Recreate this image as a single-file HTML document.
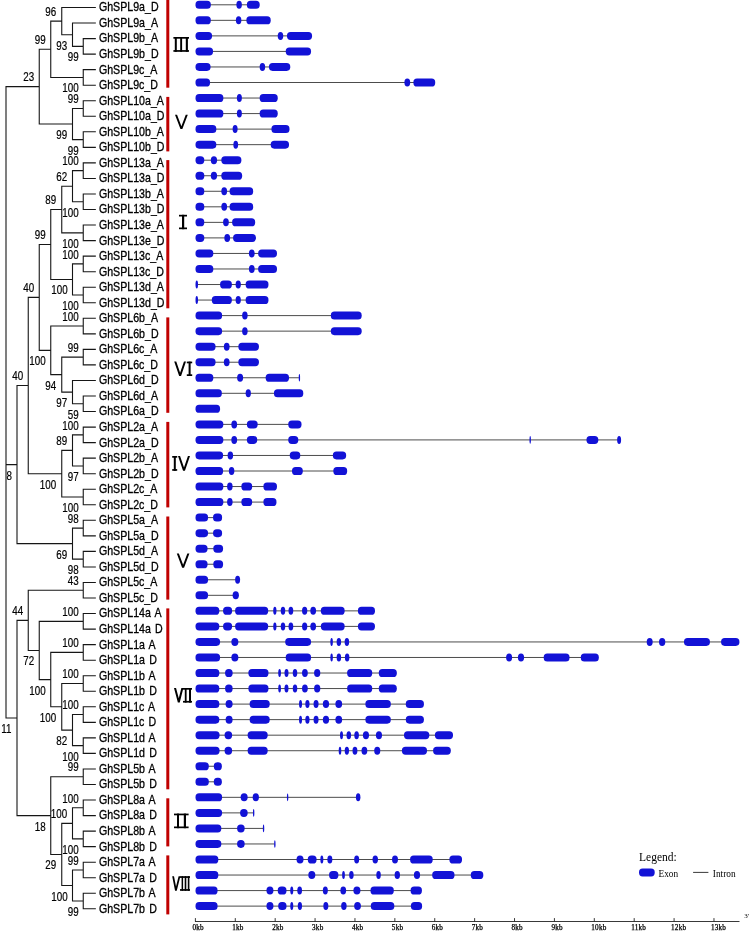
<!DOCTYPE html>
<html><head><meta charset="utf-8"><title>GhSPL phylogeny and gene structure</title>
<style>html,body{margin:0;padding:0;background:#fff}svg{display:block;will-change:transform;opacity:0.9999}text{font-family:"Liberation Sans",sans-serif;fill:#000}.sf{font-family:"Liberation Serif",serif}</style></head><body>
<svg width="750" height="932" viewBox="0 0 750 932">
<rect width="750" height="932" fill="#fff"/>
<g stroke="#161616" stroke-width="1.1" stroke-linecap="square" fill="none">
<path d="M83.25 38.58L83.25 54.12M83.25 38.58L95.30 38.58M83.25 54.12L95.30 54.12M72.50 23.04L72.50 46.35M72.50 23.04L95.30 23.04M72.50 46.35L83.25 46.35M61.75 7.50L61.75 34.69M61.75 7.50L95.30 7.50M61.75 34.69L72.50 34.69M83.25 69.66L83.25 85.20M83.25 69.66L95.30 69.66M83.25 85.20L95.30 85.20M50.75 21.10L50.75 77.43M50.75 21.10L61.75 21.10M50.75 77.43L83.25 77.43M83.25 100.74L83.25 116.28M83.25 100.74L95.30 100.74M83.25 116.28L95.30 116.28M83.25 131.82L83.25 147.36M83.25 131.82L95.30 131.82M83.25 147.36L95.30 147.36M72.50 108.51L72.50 139.59M72.50 108.51L83.25 108.51M72.50 139.59L83.25 139.59M39.25 49.26L39.25 124.05M39.25 49.26L50.75 49.26M39.25 124.05L72.50 124.05M83.25 162.90L83.25 178.44M83.25 162.90L95.30 162.90M83.25 178.44L95.30 178.44M83.25 193.98L83.25 209.52M83.25 193.98L95.30 193.98M83.25 209.52L95.30 209.52M72.50 170.67L72.50 201.75M72.50 170.67L83.25 170.67M72.50 201.75L83.25 201.75M83.25 225.06L83.25 240.60M83.25 225.06L95.30 225.06M83.25 240.60L95.30 240.60M61.75 186.21L61.75 232.83M61.75 186.21L72.50 186.21M61.75 232.83L83.25 232.83M83.25 256.14L83.25 271.68M83.25 256.14L95.30 256.14M83.25 271.68L95.30 271.68M83.25 287.22L83.25 302.76M83.25 287.22L95.30 287.22M83.25 302.76L95.30 302.76M72.50 263.91L72.50 294.99M72.50 263.91L83.25 263.91M72.50 294.99L83.25 294.99M50.75 209.52L50.75 279.45M50.75 209.52L61.75 209.52M50.75 279.45L72.50 279.45M83.25 318.30L83.25 333.84M83.25 318.30L95.30 318.30M83.25 333.84L95.30 333.84M83.25 349.38L83.25 364.92M83.25 349.38L95.30 349.38M83.25 364.92L95.30 364.92M83.25 396.00L83.25 411.54M83.25 396.00L95.30 396.00M83.25 411.54L95.30 411.54M72.50 380.46L72.50 403.77M72.50 380.46L95.30 380.46M72.50 403.77L83.25 403.77M61.75 357.15L61.75 392.12M61.75 357.15L83.25 357.15M61.75 392.12L72.50 392.12M50.75 326.07L50.75 374.63M50.75 326.07L83.25 326.07M50.75 374.63L61.75 374.63M39.25 244.48L39.25 350.35M39.25 244.48L50.75 244.48M39.25 350.35L50.75 350.35M83.25 427.08L83.25 442.62M83.25 427.08L95.30 427.08M83.25 442.62L95.30 442.62M83.25 458.16L83.25 473.70M83.25 458.16L95.30 458.16M83.25 473.70L95.30 473.70M72.50 434.85L72.50 465.93M72.50 434.85L83.25 434.85M72.50 465.93L83.25 465.93M83.25 489.24L83.25 504.78M83.25 489.24L95.30 489.24M83.25 504.78L95.30 504.78M61.75 450.39L61.75 497.01M61.75 450.39L72.50 450.39M61.75 497.01L83.25 497.01M28.25 297.42L28.25 473.70M28.25 297.42L39.25 297.42M28.25 473.70L61.75 473.70M83.25 520.32L83.25 535.86M83.25 520.32L95.30 520.32M83.25 535.86L95.30 535.86M83.25 551.40L83.25 566.94M83.25 551.40L95.30 551.40M83.25 566.94L95.30 566.94M72.50 528.09L72.50 559.17M72.50 528.09L83.25 528.09M72.50 559.17L83.25 559.17M17.00 385.56L17.00 543.63M17.00 385.56L28.25 385.56M17.00 543.63L72.50 543.63M83.25 582.48L83.25 598.02M83.25 582.48L95.30 582.48M83.25 598.02L95.30 598.02M83.25 613.56L83.25 629.10M83.25 613.56L95.30 613.56M83.25 629.10L95.30 629.10M83.25 644.64L83.25 660.18M83.25 644.64L95.30 644.64M83.25 660.18L95.30 660.18M83.25 675.72L83.25 691.26M83.25 675.72L95.30 675.72M83.25 691.26L95.30 691.26M83.25 706.80L83.25 722.34M83.25 706.80L95.30 706.80M83.25 722.34L95.30 722.34M83.25 737.88L83.25 753.42M83.25 737.88L95.30 737.88M83.25 753.42L95.30 753.42M72.50 714.57L72.50 745.65M72.50 714.57L83.25 714.57M72.50 745.65L83.25 745.65M61.75 683.49L61.75 730.11M61.75 683.49L83.25 683.49M61.75 730.11L72.50 730.11M50.75 652.41L50.75 706.80M50.75 652.41L83.25 652.41M50.75 706.80L61.75 706.80M39.25 621.33L39.25 679.61M39.25 621.33L83.25 621.33M39.25 679.61L50.75 679.61M28.25 590.25L28.25 650.47M28.25 590.25L83.25 590.25M28.25 650.47L39.25 650.47M83.25 768.96L83.25 784.50M83.25 768.96L95.30 768.96M83.25 784.50L95.30 784.50M83.25 800.04L83.25 815.58M83.25 800.04L95.30 800.04M83.25 815.58L95.30 815.58M83.25 831.12L83.25 846.66M83.25 831.12L95.30 831.12M83.25 846.66L95.30 846.66M72.50 807.81L72.50 838.89M72.50 807.81L83.25 807.81M72.50 838.89L83.25 838.89M83.25 862.20L83.25 877.74M83.25 862.20L95.30 862.20M83.25 877.74L95.30 877.74M83.25 893.28L83.25 908.82M83.25 893.28L95.30 893.28M83.25 908.82L95.30 908.82M72.50 869.97L72.50 901.05M72.50 869.97L83.25 869.97M72.50 901.05L83.25 901.05M61.75 823.35L61.75 885.51M61.75 823.35L72.50 823.35M61.75 885.51L72.50 885.51M50.75 776.73L50.75 854.43M50.75 776.73L83.25 776.73M50.75 854.43L61.75 854.43M17.00 620.36L17.00 815.58M17.00 620.36L28.25 620.36M17.00 815.58L50.75 815.58M6.00 86.66L6.00 717.97M6.00 86.66L39.25 86.66M6.00 464.59L17.00 464.59M6.00 717.97L17.00 717.97"/>
</g>
<g font-size="12" stroke="#000" stroke-width="0.3" word-spacing="1.4">
<text transform="translate(98.9 11.40) scale(0.886 1)">GhSPL9a_D</text>
<text transform="translate(98.9 26.94) scale(0.886 1)">GhSPL9a_A</text>
<text transform="translate(98.9 42.48) scale(0.886 1)">GhSPL9b_A</text>
<text transform="translate(98.9 58.02) scale(0.886 1)">GhSPL9b_D</text>
<text transform="translate(98.9 73.56) scale(0.886 1)">GhSPL9c_A</text>
<text transform="translate(98.9 89.10) scale(0.886 1)">GhSPL9c_D</text>
<text transform="translate(98.9 104.64) scale(0.886 1)">GhSPL10a_A</text>
<text transform="translate(98.9 120.18) scale(0.886 1)">GhSPL10a_D</text>
<text transform="translate(98.9 135.72) scale(0.886 1)">GhSPL10b_A</text>
<text transform="translate(98.9 151.26) scale(0.886 1)">GhSPL10b_D</text>
<text transform="translate(98.9 166.80) scale(0.886 1)">GhSPL13a_A</text>
<text transform="translate(98.9 182.34) scale(0.886 1)">GhSPL13a_D</text>
<text transform="translate(98.9 197.88) scale(0.886 1)">GhSPL13b_A</text>
<text transform="translate(98.9 213.42) scale(0.886 1)">GhSPL13b_D</text>
<text transform="translate(98.9 228.96) scale(0.886 1)">GhSPL13e_A</text>
<text transform="translate(98.9 244.50) scale(0.886 1)">GhSPL13e_D</text>
<text transform="translate(98.9 260.04) scale(0.886 1)">GhSPL13c_A</text>
<text transform="translate(98.9 275.58) scale(0.886 1)">GhSPL13c_D</text>
<text transform="translate(98.9 291.12) scale(0.886 1)">GhSPL13d_A</text>
<text transform="translate(98.9 306.66) scale(0.886 1)">GhSPL13d_D</text>
<text transform="translate(98.9 322.20) scale(0.886 1)">GhSPL6b_A</text>
<text transform="translate(98.9 337.74) scale(0.886 1)">GhSPL6b_D</text>
<text transform="translate(98.9 353.28) scale(0.886 1)">GhSPL6c_A</text>
<text transform="translate(98.9 368.82) scale(0.886 1)">GhSPL6c_D</text>
<text transform="translate(98.9 384.36) scale(0.886 1)">GhSPL6d_D</text>
<text transform="translate(98.9 399.90) scale(0.886 1)">GhSPL6d_A</text>
<text transform="translate(98.9 415.44) scale(0.886 1)">GhSPL6a_D</text>
<text transform="translate(98.9 430.98) scale(0.886 1)">GhSPL2a_A</text>
<text transform="translate(98.9 446.52) scale(0.886 1)">GhSPL2a_D</text>
<text transform="translate(98.9 462.06) scale(0.886 1)">GhSPL2b_A</text>
<text transform="translate(98.9 477.60) scale(0.886 1)">GhSPL2b_D</text>
<text transform="translate(98.9 493.14) scale(0.886 1)">GhSPL2c_A</text>
<text transform="translate(98.9 508.68) scale(0.886 1)">GhSPL2c_D</text>
<text transform="translate(98.9 524.22) scale(0.886 1)">GhSPL5a_A</text>
<text transform="translate(98.9 539.76) scale(0.886 1)">GhSPL5a_D</text>
<text transform="translate(98.9 555.30) scale(0.886 1)">GhSPL5d_A</text>
<text transform="translate(98.9 570.84) scale(0.886 1)">GhSPL5d_D</text>
<text transform="translate(98.9 586.38) scale(0.886 1)">GhSPL5c_A</text>
<text transform="translate(98.9 601.92) scale(0.886 1)">GhSPL5c_D</text>
<text transform="translate(98.9 617.46) scale(0.886 1)">GhSPL14a A</text>
<text transform="translate(98.9 633.00) scale(0.886 1)">GhSPL14a D</text>
<text transform="translate(98.9 648.54) scale(0.886 1)">GhSPL1a A</text>
<text transform="translate(98.9 664.08) scale(0.886 1)">GhSPL1a D</text>
<text transform="translate(98.9 679.62) scale(0.886 1)">GhSPL1b A</text>
<text transform="translate(98.9 695.16) scale(0.886 1)">GhSPL1b D</text>
<text transform="translate(98.9 710.70) scale(0.886 1)">GhSPL1c A</text>
<text transform="translate(98.9 726.24) scale(0.886 1)">GhSPL1c D</text>
<text transform="translate(98.9 741.78) scale(0.886 1)">GhSPL1d A</text>
<text transform="translate(98.9 757.32) scale(0.886 1)">GhSPL1d D</text>
<text transform="translate(98.9 772.86) scale(0.886 1)">GhSPL5b A</text>
<text transform="translate(98.9 788.40) scale(0.886 1)">GhSPL5b D</text>
<text transform="translate(98.9 803.94) scale(0.886 1)">GhSPL8a A</text>
<text transform="translate(98.9 819.48) scale(0.886 1)">GhSPL8a D</text>
<text transform="translate(98.9 835.02) scale(0.886 1)">GhSPL8b A</text>
<text transform="translate(98.9 850.56) scale(0.886 1)">GhSPL8b D</text>
<text transform="translate(98.9 866.10) scale(0.886 1)">GhSPL7a A</text>
<text transform="translate(98.9 881.64) scale(0.886 1)">GhSPL7a D</text>
<text transform="translate(98.9 897.18) scale(0.886 1)">GhSPL7b A</text>
<text transform="translate(98.9 912.72) scale(0.886 1)">GhSPL7b D</text>
</g>
<g font-size="11.9" text-anchor="end" stroke="#000" stroke-width="0.2">
<text transform="translate(56.10 15.80) scale(0.825 1)">96</text>
<text transform="translate(45.60 43.96) scale(0.825 1)">99</text>
<text transform="translate(67.10 49.69) scale(0.825 1)">93</text>
<text transform="translate(78.70 61.35) scale(0.825 1)">99</text>
<text transform="translate(34.10 81.36) scale(0.825 1)">23</text>
<text transform="translate(78.70 92.43) scale(0.825 1)">100</text>
<text transform="translate(78.70 103.21) scale(0.825 1)">99</text>
<text transform="translate(67.10 139.05) scale(0.825 1)">99</text>
<text transform="translate(78.70 154.59) scale(0.825 1)">99</text>
<text transform="translate(78.70 165.37) scale(0.825 1)">100</text>
<text transform="translate(67.10 180.91) scale(0.825 1)">62</text>
<text transform="translate(56.10 204.22) scale(0.825 1)">89</text>
<text transform="translate(78.70 216.75) scale(0.825 1)">100</text>
<text transform="translate(45.60 239.19) scale(0.825 1)">99</text>
<text transform="translate(78.70 247.83) scale(0.825 1)">100</text>
<text transform="translate(78.70 258.61) scale(0.825 1)">100</text>
<text transform="translate(34.10 292.12) scale(0.825 1)">40</text>
<text transform="translate(67.60 294.45) scale(0.825 1)">100</text>
<text transform="translate(78.70 309.99) scale(0.825 1)">100</text>
<text transform="translate(78.70 320.77) scale(0.825 1)">100</text>
<text transform="translate(78.70 351.85) scale(0.825 1)">99</text>
<text transform="translate(45.60 365.35) scale(0.825 1)">100</text>
<text transform="translate(23.10 380.26) scale(0.825 1)">40</text>
<text transform="translate(56.10 389.63) scale(0.825 1)">94</text>
<text transform="translate(67.10 407.12) scale(0.825 1)">97</text>
<text transform="translate(78.70 418.77) scale(0.825 1)">59</text>
<text transform="translate(78.70 429.55) scale(0.825 1)">100</text>
<text transform="translate(67.10 445.09) scale(0.825 1)">89</text>
<text transform="translate(11.85 479.59) scale(0.825 1)">8</text>
<text transform="translate(78.70 480.93) scale(0.825 1)">97</text>
<text transform="translate(56.10 488.70) scale(0.825 1)">100</text>
<text transform="translate(78.70 512.01) scale(0.825 1)">100</text>
<text transform="translate(78.70 522.79) scale(0.825 1)">98</text>
<text transform="translate(67.10 558.63) scale(0.825 1)">69</text>
<text transform="translate(78.70 574.17) scale(0.825 1)">98</text>
<text transform="translate(78.70 584.95) scale(0.825 1)">43</text>
<text transform="translate(23.10 615.06) scale(0.825 1)">44</text>
<text transform="translate(78.70 616.03) scale(0.825 1)">100</text>
<text transform="translate(78.70 647.11) scale(0.825 1)">100</text>
<text transform="translate(34.10 665.47) scale(0.825 1)">72</text>
<text transform="translate(78.70 678.19) scale(0.825 1)">100</text>
<text transform="translate(45.60 694.61) scale(0.825 1)">100</text>
<text transform="translate(78.70 709.27) scale(0.825 1)">100</text>
<text transform="translate(56.10 721.80) scale(0.825 1)">100</text>
<text transform="translate(11.35 732.97) scale(0.825 1)">11</text>
<text transform="translate(67.10 745.11) scale(0.825 1)">82</text>
<text transform="translate(78.70 760.65) scale(0.825 1)">100</text>
<text transform="translate(78.70 771.43) scale(0.825 1)">99</text>
<text transform="translate(78.70 802.51) scale(0.825 1)">100</text>
<text transform="translate(67.10 818.05) scale(0.825 1)">100</text>
<text transform="translate(45.60 830.58) scale(0.825 1)">18</text>
<text transform="translate(78.70 853.89) scale(0.825 1)">100</text>
<text transform="translate(78.70 864.67) scale(0.825 1)">99</text>
<text transform="translate(56.10 869.43) scale(0.825 1)">29</text>
<text transform="translate(67.60 900.51) scale(0.825 1)">100</text>
<text transform="translate(78.70 916.05) scale(0.825 1)">99</text>
</g>
<g fill="#c00000">
<rect x="166.3" y="0.00" width="3.0" height="87.70"/>
<rect x="166.3" y="96.90" width="3.0" height="54.50"/>
<rect x="166.3" y="160.10" width="3.0" height="148.20"/>
<rect x="166.3" y="317.40" width="3.0" height="95.40"/>
<rect x="166.3" y="421.90" width="3.0" height="85.50"/>
<rect x="166.3" y="516.50" width="3.0" height="83.10"/>
<rect x="166.3" y="608.40" width="3.0" height="180.90"/>
<rect x="166.3" y="798.30" width="3.0" height="48.10"/>
<rect x="166.3" y="855.40" width="3.0" height="59.00"/>
</g>
<g>
<rect x="173.40" y="37.00" width="15.60" height="1.7" fill="#000"/><rect x="173.40" y="50.10" width="15.60" height="1.7" fill="#000"/><rect x="174.80" y="37.00" width="2.00" height="14.80" fill="#000"/><rect x="180.20" y="37.00" width="1.90" height="14.80" fill="#000"/><rect x="185.80" y="37.00" width="2.10" height="14.80" fill="#000"/>
<polygon points="175.00,114.80 180.45,129.00 182.35,129.00 187.80,114.80 185.75,114.80 181.40,126.13 177.05,114.80" fill="#000"/>
<rect x="179.00" y="214.80" width="8.00" height="1.7" fill="#000"/><rect x="179.00" y="227.50" width="8.00" height="1.7" fill="#000"/><rect x="182.00" y="214.80" width="2.20" height="14.40" fill="#000"/>
<polygon points="174.20,361.60 179.15,376.00 181.05,376.00 186.00,361.60 183.95,361.60 180.10,372.80 176.25,361.60" fill="#000"/>
<rect x="186.80" y="361.60" width="5.40" height="1.7" fill="#000"/><rect x="186.80" y="374.30" width="5.40" height="1.7" fill="#000"/><rect x="188.60" y="361.60" width="2.00" height="14.40" fill="#000"/>
<rect x="172.20" y="456.00" width="5.00" height="1.7" fill="#000"/><rect x="172.20" y="469.10" width="5.00" height="1.7" fill="#000"/><rect x="173.80" y="456.00" width="2.00" height="14.80" fill="#000"/>
<polygon points="178.00,456.00 183.05,470.80 184.95,470.80 190.00,456.00 187.95,456.00 184.00,467.58 180.05,456.00" fill="#000"/>
<polygon points="176.80,553.40 182.15,567.80 184.05,567.80 189.40,553.40 187.35,553.40 183.10,564.84 178.85,553.40" fill="#000"/>
<polygon points="174.00,688.00 177.85,702.60 179.75,702.60 183.40,688.00 181.35,688.00 178.77,698.32 176.05,688.00" fill="#000"/>
<rect x="183.00" y="688.00" width="9.00" height="1.7" fill="#000"/><rect x="183.00" y="700.90" width="9.00" height="1.7" fill="#000"/><rect x="184.80" y="688.00" width="1.80" height="14.60" fill="#000"/><rect x="189.00" y="688.00" width="2.00" height="14.60" fill="#000"/>
<rect x="174.00" y="813.60" width="14.60" height="1.7" fill="#000"/><rect x="174.00" y="826.50" width="14.60" height="1.7" fill="#000"/><rect x="177.00" y="813.60" width="2.00" height="14.60" fill="#000"/><rect x="183.80" y="813.60" width="2.20" height="14.60" fill="#000"/>
<polygon points="172.20,876.20 175.05,890.80 176.75,890.80 180.40,876.20 178.60,876.20 176.02,886.53 174.00,876.20" fill="#000"/>
<rect x="180.00" y="876.20" width="10.00" height="1.7" fill="#000"/><rect x="180.00" y="889.10" width="10.00" height="1.7" fill="#000"/><rect x="181.60" y="876.20" width="1.50" height="14.60" fill="#000"/><rect x="184.70" y="876.20" width="1.60" height="14.60" fill="#000"/><rect x="187.80" y="876.20" width="1.60" height="14.60" fill="#000"/>
</g>
<g>
<line x1="197.51" y1="4.80" x2="259.17" y2="4.80" stroke="#383838" stroke-width="0.9"/>
<rect x="195.51" y="0.80" width="15.29" height="8.0" rx="3.60" ry="3.60" fill="#1212d6"/>
<rect x="236.37" y="0.80" width="5.51" height="8.0" rx="2.76" ry="4.00" fill="#1212d6"/>
<rect x="246.89" y="0.80" width="12.78" height="8.0" rx="3.60" ry="3.60" fill="#1212d6"/>
<line x1="197.51" y1="20.34" x2="270.20" y2="20.34" stroke="#383838" stroke-width="0.9"/>
<rect x="195.51" y="16.34" width="15.29" height="8.0" rx="3.60" ry="3.60" fill="#1212d6"/>
<rect x="235.86" y="16.34" width="5.51" height="8.0" rx="2.76" ry="4.00" fill="#1212d6"/>
<rect x="246.39" y="16.34" width="24.31" height="8.0" rx="3.60" ry="3.60" fill="#1212d6"/>
<line x1="197.51" y1="35.88" x2="311.56" y2="35.88" stroke="#383838" stroke-width="0.9"/>
<rect x="195.51" y="31.88" width="16.54" height="8.0" rx="3.60" ry="3.60" fill="#1212d6"/>
<rect x="277.72" y="31.88" width="5.51" height="8.0" rx="2.76" ry="4.00" fill="#1212d6"/>
<rect x="286.99" y="31.88" width="25.06" height="8.0" rx="3.60" ry="3.60" fill="#1212d6"/>
<line x1="197.51" y1="51.42" x2="310.55" y2="51.42" stroke="#383838" stroke-width="0.9"/>
<rect x="195.51" y="47.42" width="17.54" height="8.0" rx="3.60" ry="3.60" fill="#1212d6"/>
<rect x="285.74" y="47.42" width="25.31" height="8.0" rx="3.60" ry="3.60" fill="#1212d6"/>
<line x1="197.51" y1="66.96" x2="289.75" y2="66.96" stroke="#383838" stroke-width="0.9"/>
<rect x="195.51" y="62.96" width="15.04" height="8.0" rx="3.60" ry="3.60" fill="#1212d6"/>
<rect x="259.67" y="62.96" width="5.51" height="8.0" rx="2.76" ry="4.00" fill="#1212d6"/>
<rect x="268.95" y="62.96" width="21.30" height="8.0" rx="3.60" ry="3.60" fill="#1212d6"/>
<line x1="197.51" y1="82.50" x2="434.70" y2="82.50" stroke="#383838" stroke-width="0.9"/>
<rect x="195.51" y="78.50" width="14.54" height="8.0" rx="3.60" ry="3.60" fill="#1212d6"/>
<rect x="404.40" y="78.50" width="5.80" height="8.0" rx="2.90" ry="4.00" fill="#1212d6"/>
<rect x="413.40" y="78.50" width="21.80" height="8.0" rx="3.60" ry="3.60" fill="#1212d6"/>
<line x1="197.51" y1="98.04" x2="277.22" y2="98.04" stroke="#383838" stroke-width="0.9"/>
<rect x="195.51" y="94.04" width="27.82" height="8.0" rx="3.60" ry="3.60" fill="#1212d6"/>
<rect x="236.87" y="94.04" width="5.01" height="8.0" rx="2.51" ry="4.00" fill="#1212d6"/>
<rect x="259.67" y="94.04" width="18.05" height="8.0" rx="3.60" ry="3.60" fill="#1212d6"/>
<line x1="197.51" y1="113.58" x2="277.22" y2="113.58" stroke="#383838" stroke-width="0.9"/>
<rect x="195.51" y="109.58" width="27.82" height="8.0" rx="3.60" ry="3.60" fill="#1212d6"/>
<rect x="236.87" y="109.58" width="5.01" height="8.0" rx="2.51" ry="4.00" fill="#1212d6"/>
<rect x="259.67" y="109.58" width="18.05" height="8.0" rx="3.60" ry="3.60" fill="#1212d6"/>
<line x1="197.51" y1="129.12" x2="289.00" y2="129.12" stroke="#383838" stroke-width="0.9"/>
<rect x="195.51" y="125.12" width="20.80" height="8.0" rx="3.60" ry="3.60" fill="#1212d6"/>
<rect x="232.61" y="125.12" width="5.01" height="8.0" rx="2.51" ry="4.00" fill="#1212d6"/>
<rect x="271.45" y="125.12" width="18.05" height="8.0" rx="3.60" ry="3.60" fill="#1212d6"/>
<line x1="197.51" y1="144.66" x2="288.50" y2="144.66" stroke="#383838" stroke-width="0.9"/>
<rect x="195.51" y="140.66" width="20.80" height="8.0" rx="3.60" ry="3.60" fill="#1212d6"/>
<rect x="233.36" y="140.66" width="4.76" height="8.0" rx="2.38" ry="4.00" fill="#1212d6"/>
<rect x="270.70" y="140.66" width="18.30" height="8.0" rx="3.60" ry="3.60" fill="#1212d6"/>
<line x1="197.51" y1="160.20" x2="240.88" y2="160.20" stroke="#383838" stroke-width="0.9"/>
<rect x="195.51" y="156.20" width="8.77" height="8.0" rx="3.60" ry="3.60" fill="#1212d6"/>
<rect x="210.80" y="156.20" width="6.27" height="8.0" rx="3.13" ry="4.00" fill="#1212d6"/>
<rect x="221.33" y="156.20" width="20.05" height="8.0" rx="3.60" ry="3.60" fill="#1212d6"/>
<line x1="197.51" y1="175.74" x2="241.63" y2="175.74" stroke="#383838" stroke-width="0.9"/>
<rect x="195.51" y="171.74" width="8.77" height="8.0" rx="3.60" ry="3.60" fill="#1212d6"/>
<rect x="210.80" y="171.74" width="6.27" height="8.0" rx="3.13" ry="4.00" fill="#1212d6"/>
<rect x="221.33" y="171.74" width="20.80" height="8.0" rx="3.60" ry="3.60" fill="#1212d6"/>
<line x1="197.51" y1="191.28" x2="252.66" y2="191.28" stroke="#383838" stroke-width="0.9"/>
<rect x="195.51" y="187.28" width="8.77" height="8.0" rx="3.60" ry="3.60" fill="#1212d6"/>
<rect x="221.33" y="187.28" width="5.76" height="8.0" rx="2.88" ry="4.00" fill="#1212d6"/>
<rect x="229.60" y="187.28" width="23.56" height="8.0" rx="3.60" ry="3.60" fill="#1212d6"/>
<line x1="197.51" y1="206.82" x2="252.66" y2="206.82" stroke="#383838" stroke-width="0.9"/>
<rect x="195.51" y="202.82" width="8.77" height="8.0" rx="3.60" ry="3.60" fill="#1212d6"/>
<rect x="221.33" y="202.82" width="5.76" height="8.0" rx="2.88" ry="4.00" fill="#1212d6"/>
<rect x="229.60" y="202.82" width="23.56" height="8.0" rx="3.60" ry="3.60" fill="#1212d6"/>
<line x1="197.51" y1="222.36" x2="254.66" y2="222.36" stroke="#383838" stroke-width="0.9"/>
<rect x="195.51" y="218.36" width="8.77" height="8.0" rx="3.60" ry="3.60" fill="#1212d6"/>
<rect x="223.08" y="218.36" width="5.76" height="8.0" rx="2.88" ry="4.00" fill="#1212d6"/>
<rect x="232.11" y="218.36" width="23.06" height="8.0" rx="3.60" ry="3.60" fill="#1212d6"/>
<line x1="197.51" y1="237.90" x2="255.41" y2="237.90" stroke="#383838" stroke-width="0.9"/>
<rect x="195.51" y="233.90" width="8.77" height="8.0" rx="3.60" ry="3.60" fill="#1212d6"/>
<rect x="224.34" y="233.90" width="5.76" height="8.0" rx="2.88" ry="4.00" fill="#1212d6"/>
<rect x="233.11" y="233.90" width="22.81" height="8.0" rx="3.60" ry="3.60" fill="#1212d6"/>
<line x1="197.51" y1="253.44" x2="276.47" y2="253.44" stroke="#383838" stroke-width="0.9"/>
<rect x="195.51" y="249.44" width="17.79" height="8.0" rx="3.60" ry="3.60" fill="#1212d6"/>
<rect x="248.90" y="249.44" width="5.76" height="8.0" rx="2.88" ry="4.00" fill="#1212d6"/>
<rect x="258.17" y="249.44" width="18.80" height="8.0" rx="3.60" ry="3.60" fill="#1212d6"/>
<line x1="197.51" y1="268.98" x2="276.47" y2="268.98" stroke="#383838" stroke-width="0.9"/>
<rect x="195.51" y="264.98" width="17.79" height="8.0" rx="3.60" ry="3.60" fill="#1212d6"/>
<rect x="248.90" y="264.98" width="5.76" height="8.0" rx="2.88" ry="4.00" fill="#1212d6"/>
<rect x="258.17" y="264.98" width="18.80" height="8.0" rx="3.60" ry="3.60" fill="#1212d6"/>
<line x1="197.51" y1="284.52" x2="267.95" y2="284.52" stroke="#383838" stroke-width="0.9"/>
<rect x="195.51" y="280.52" width="2.51" height="8.0" rx="1.25" ry="4.00" fill="#1212d6"/>
<rect x="220.08" y="280.52" width="11.78" height="8.0" rx="3.60" ry="3.60" fill="#1212d6"/>
<rect x="235.61" y="280.52" width="5.26" height="8.0" rx="2.63" ry="4.00" fill="#1212d6"/>
<rect x="245.64" y="280.52" width="22.81" height="8.0" rx="3.60" ry="3.60" fill="#1212d6"/>
<line x1="197.51" y1="300.06" x2="267.95" y2="300.06" stroke="#383838" stroke-width="0.9"/>
<rect x="195.51" y="296.06" width="2.51" height="8.0" rx="1.25" ry="4.00" fill="#1212d6"/>
<rect x="211.80" y="296.06" width="20.05" height="8.0" rx="3.60" ry="3.60" fill="#1212d6"/>
<rect x="235.61" y="296.06" width="5.26" height="8.0" rx="2.63" ry="4.00" fill="#1212d6"/>
<rect x="245.64" y="296.06" width="22.81" height="8.0" rx="3.60" ry="3.60" fill="#1212d6"/>
<line x1="197.51" y1="315.60" x2="361.18" y2="315.60" stroke="#383838" stroke-width="0.9"/>
<rect x="195.51" y="311.60" width="26.57" height="8.0" rx="3.60" ry="3.60" fill="#1212d6"/>
<rect x="242.13" y="311.60" width="5.51" height="8.0" rx="2.76" ry="4.00" fill="#1212d6"/>
<rect x="330.85" y="311.60" width="30.83" height="8.0" rx="3.60" ry="3.60" fill="#1212d6"/>
<line x1="197.51" y1="331.14" x2="361.18" y2="331.14" stroke="#383838" stroke-width="0.9"/>
<rect x="195.51" y="327.14" width="26.57" height="8.0" rx="3.60" ry="3.60" fill="#1212d6"/>
<rect x="242.13" y="327.14" width="5.51" height="8.0" rx="2.76" ry="4.00" fill="#1212d6"/>
<rect x="330.85" y="327.14" width="30.83" height="8.0" rx="3.60" ry="3.60" fill="#1212d6"/>
<line x1="197.51" y1="346.68" x2="258.42" y2="346.68" stroke="#383838" stroke-width="0.9"/>
<rect x="195.51" y="342.68" width="20.05" height="8.0" rx="3.60" ry="3.60" fill="#1212d6"/>
<rect x="223.83" y="342.68" width="5.76" height="8.0" rx="2.88" ry="4.00" fill="#1212d6"/>
<rect x="238.37" y="342.68" width="20.55" height="8.0" rx="3.60" ry="3.60" fill="#1212d6"/>
<line x1="197.51" y1="362.22" x2="258.42" y2="362.22" stroke="#383838" stroke-width="0.9"/>
<rect x="195.51" y="358.22" width="20.05" height="8.0" rx="3.60" ry="3.60" fill="#1212d6"/>
<rect x="223.83" y="358.22" width="5.76" height="8.0" rx="2.88" ry="4.00" fill="#1212d6"/>
<rect x="238.37" y="358.22" width="20.55" height="8.0" rx="3.60" ry="3.60" fill="#1212d6"/>
<line x1="197.51" y1="377.76" x2="298.90" y2="377.76" stroke="#383838" stroke-width="0.9"/>
<rect x="195.51" y="373.76" width="17.79" height="8.0" rx="3.60" ry="3.60" fill="#1212d6"/>
<rect x="237.12" y="373.76" width="6.02" height="8.0" rx="3.01" ry="4.00" fill="#1212d6"/>
<rect x="265.69" y="373.76" width="23.31" height="8.0" rx="3.60" ry="3.60" fill="#1212d6"/>
<ellipse cx="299.40" cy="377.76" rx="0.7" ry="3.8" fill="#1212d6"/>
<line x1="197.51" y1="393.30" x2="302.78" y2="393.30" stroke="#383838" stroke-width="0.9"/>
<rect x="195.51" y="389.30" width="26.32" height="8.0" rx="3.60" ry="3.60" fill="#1212d6"/>
<rect x="245.64" y="389.30" width="5.26" height="8.0" rx="2.63" ry="4.00" fill="#1212d6"/>
<rect x="273.96" y="389.30" width="29.32" height="8.0" rx="3.60" ry="3.60" fill="#1212d6"/>
<line x1="197.51" y1="408.84" x2="219.58" y2="408.84" stroke="#383838" stroke-width="0.9"/>
<rect x="195.51" y="404.84" width="24.56" height="8.0" rx="3.60" ry="3.60" fill="#1212d6"/>
<line x1="197.51" y1="424.38" x2="301.03" y2="424.38" stroke="#383838" stroke-width="0.9"/>
<rect x="195.51" y="420.38" width="27.82" height="8.0" rx="3.60" ry="3.60" fill="#1212d6"/>
<rect x="231.35" y="420.38" width="5.76" height="8.0" rx="2.88" ry="4.00" fill="#1212d6"/>
<rect x="246.89" y="420.38" width="10.78" height="8.0" rx="3.60" ry="3.60" fill="#1212d6"/>
<rect x="288.25" y="420.38" width="13.28" height="8.0" rx="3.60" ry="3.60" fill="#1212d6"/>
<line x1="197.51" y1="439.92" x2="620.60" y2="439.92" stroke="#383838" stroke-width="0.9"/>
<rect x="195.51" y="435.92" width="27.82" height="8.0" rx="3.60" ry="3.60" fill="#1212d6"/>
<rect x="231.35" y="435.92" width="5.76" height="8.0" rx="2.88" ry="4.00" fill="#1212d6"/>
<rect x="246.89" y="435.92" width="10.28" height="8.0" rx="3.60" ry="3.60" fill="#1212d6"/>
<rect x="288.25" y="435.92" width="10.03" height="8.0" rx="3.60" ry="3.60" fill="#1212d6"/>
<rect x="586.50" y="435.92" width="11.80" height="8.0" rx="3.60" ry="3.60" fill="#1212d6"/>
<rect x="617.10" y="435.92" width="4.00" height="8.0" rx="2.00" ry="4.00" fill="#1212d6"/>
<ellipse cx="530.20" cy="439.92" rx="0.7" ry="3.8" fill="#1212d6"/>
<line x1="197.51" y1="455.46" x2="345.64" y2="455.46" stroke="#383838" stroke-width="0.9"/>
<rect x="195.51" y="451.46" width="27.57" height="8.0" rx="3.60" ry="3.60" fill="#1212d6"/>
<rect x="227.59" y="451.46" width="5.51" height="8.0" rx="2.76" ry="4.00" fill="#1212d6"/>
<rect x="289.75" y="451.46" width="10.53" height="8.0" rx="3.60" ry="3.60" fill="#1212d6"/>
<rect x="332.86" y="451.46" width="13.28" height="8.0" rx="3.60" ry="3.60" fill="#1212d6"/>
<line x1="197.51" y1="471.00" x2="346.64" y2="471.00" stroke="#383838" stroke-width="0.9"/>
<rect x="195.51" y="467.00" width="27.57" height="8.0" rx="3.60" ry="3.60" fill="#1212d6"/>
<rect x="228.85" y="467.00" width="5.51" height="8.0" rx="2.76" ry="4.00" fill="#1212d6"/>
<rect x="292.01" y="467.00" width="10.78" height="8.0" rx="3.60" ry="3.60" fill="#1212d6"/>
<rect x="333.36" y="467.00" width="13.78" height="8.0" rx="3.60" ry="3.60" fill="#1212d6"/>
<line x1="197.51" y1="486.54" x2="276.47" y2="486.54" stroke="#383838" stroke-width="0.9"/>
<rect x="195.51" y="482.54" width="27.82" height="8.0" rx="3.60" ry="3.60" fill="#1212d6"/>
<rect x="227.09" y="482.54" width="5.51" height="8.0" rx="2.76" ry="4.00" fill="#1212d6"/>
<rect x="241.38" y="482.54" width="10.78" height="8.0" rx="3.60" ry="3.60" fill="#1212d6"/>
<rect x="263.43" y="482.54" width="13.53" height="8.0" rx="3.60" ry="3.60" fill="#1212d6"/>
<line x1="197.51" y1="502.08" x2="275.97" y2="502.08" stroke="#383838" stroke-width="0.9"/>
<rect x="195.51" y="498.08" width="27.82" height="8.0" rx="3.60" ry="3.60" fill="#1212d6"/>
<rect x="227.09" y="498.08" width="5.51" height="8.0" rx="2.76" ry="4.00" fill="#1212d6"/>
<rect x="241.38" y="498.08" width="10.78" height="8.0" rx="3.60" ry="3.60" fill="#1212d6"/>
<rect x="263.43" y="498.08" width="13.03" height="8.0" rx="3.60" ry="3.60" fill="#1212d6"/>
<line x1="197.51" y1="517.62" x2="221.58" y2="517.62" stroke="#383838" stroke-width="0.9"/>
<rect x="195.51" y="513.62" width="12.53" height="8.0" rx="3.60" ry="3.60" fill="#1212d6"/>
<rect x="213.06" y="513.62" width="9.02" height="8.0" rx="3.60" ry="3.60" fill="#1212d6"/>
<line x1="197.51" y1="533.16" x2="221.58" y2="533.16" stroke="#383838" stroke-width="0.9"/>
<rect x="195.51" y="529.16" width="12.53" height="8.0" rx="3.60" ry="3.60" fill="#1212d6"/>
<rect x="213.06" y="529.16" width="9.02" height="8.0" rx="3.60" ry="3.60" fill="#1212d6"/>
<line x1="197.51" y1="548.70" x2="222.58" y2="548.70" stroke="#383838" stroke-width="0.9"/>
<rect x="195.51" y="544.70" width="12.03" height="8.0" rx="3.60" ry="3.60" fill="#1212d6"/>
<rect x="213.31" y="544.70" width="9.77" height="8.0" rx="3.60" ry="3.60" fill="#1212d6"/>
<line x1="197.51" y1="564.24" x2="222.58" y2="564.24" stroke="#383838" stroke-width="0.9"/>
<rect x="195.51" y="560.24" width="12.03" height="8.0" rx="3.60" ry="3.60" fill="#1212d6"/>
<rect x="213.31" y="560.24" width="9.77" height="8.0" rx="3.60" ry="3.60" fill="#1212d6"/>
<line x1="197.51" y1="579.78" x2="239.63" y2="579.78" stroke="#383838" stroke-width="0.9"/>
<rect x="195.51" y="575.78" width="12.53" height="8.0" rx="3.60" ry="3.60" fill="#1212d6"/>
<rect x="235.11" y="575.78" width="5.01" height="8.0" rx="2.51" ry="4.00" fill="#1212d6"/>
<line x1="197.51" y1="595.32" x2="238.37" y2="595.32" stroke="#383838" stroke-width="0.9"/>
<rect x="195.51" y="591.32" width="12.53" height="8.0" rx="3.60" ry="3.60" fill="#1212d6"/>
<rect x="232.61" y="591.32" width="6.27" height="8.0" rx="3.13" ry="4.00" fill="#1212d6"/>
<line x1="197.51" y1="610.86" x2="374.46" y2="610.86" stroke="#383838" stroke-width="0.9"/>
<rect x="195.51" y="606.86" width="23.81" height="8.0" rx="3.60" ry="3.60" fill="#1212d6"/>
<rect x="223.08" y="606.86" width="9.02" height="8.0" rx="3.60" ry="3.60" fill="#1212d6"/>
<rect x="235.11" y="606.86" width="33.08" height="8.0" rx="3.60" ry="3.60" fill="#1212d6"/>
<rect x="273.21" y="606.86" width="3.26" height="8.0" rx="1.63" ry="4.00" fill="#1212d6"/>
<rect x="280.73" y="606.86" width="4.51" height="8.0" rx="2.26" ry="4.00" fill="#1212d6"/>
<rect x="288.50" y="606.86" width="4.76" height="8.0" rx="2.38" ry="4.00" fill="#1212d6"/>
<rect x="302.03" y="606.86" width="5.26" height="8.0" rx="2.63" ry="4.00" fill="#1212d6"/>
<rect x="310.30" y="606.86" width="5.76" height="8.0" rx="2.88" ry="4.00" fill="#1212d6"/>
<rect x="320.83" y="606.86" width="23.81" height="8.0" rx="3.60" ry="3.60" fill="#1212d6"/>
<rect x="357.92" y="606.86" width="17.04" height="8.0" rx="3.60" ry="3.60" fill="#1212d6"/>
<line x1="197.51" y1="626.40" x2="374.46" y2="626.40" stroke="#383838" stroke-width="0.9"/>
<rect x="195.51" y="622.40" width="23.81" height="8.0" rx="3.60" ry="3.60" fill="#1212d6"/>
<rect x="223.08" y="622.40" width="9.02" height="8.0" rx="3.60" ry="3.60" fill="#1212d6"/>
<rect x="235.11" y="622.40" width="33.08" height="8.0" rx="3.60" ry="3.60" fill="#1212d6"/>
<rect x="273.21" y="622.40" width="3.26" height="8.0" rx="1.63" ry="4.00" fill="#1212d6"/>
<rect x="280.73" y="622.40" width="4.51" height="8.0" rx="2.26" ry="4.00" fill="#1212d6"/>
<rect x="288.50" y="622.40" width="4.76" height="8.0" rx="2.38" ry="4.00" fill="#1212d6"/>
<rect x="302.03" y="622.40" width="5.26" height="8.0" rx="2.63" ry="4.00" fill="#1212d6"/>
<rect x="310.30" y="622.40" width="5.76" height="8.0" rx="2.88" ry="4.00" fill="#1212d6"/>
<rect x="320.83" y="622.40" width="23.81" height="8.0" rx="3.60" ry="3.60" fill="#1212d6"/>
<rect x="357.92" y="622.40" width="17.04" height="8.0" rx="3.60" ry="3.60" fill="#1212d6"/>
<line x1="197.51" y1="641.94" x2="738.90" y2="641.94" stroke="#383838" stroke-width="0.9"/>
<rect x="195.51" y="637.94" width="24.56" height="8.0" rx="3.60" ry="3.60" fill="#1212d6"/>
<rect x="231.35" y="637.94" width="7.02" height="8.0" rx="3.51" ry="4.00" fill="#1212d6"/>
<rect x="285.24" y="637.94" width="25.81" height="8.0" rx="3.60" ry="3.60" fill="#1212d6"/>
<rect x="330.35" y="637.94" width="2.51" height="8.0" rx="1.25" ry="4.00" fill="#1212d6"/>
<rect x="336.62" y="637.94" width="4.51" height="8.0" rx="2.26" ry="4.00" fill="#1212d6"/>
<rect x="344.64" y="637.94" width="4.51" height="8.0" rx="2.26" ry="4.00" fill="#1212d6"/>
<rect x="646.70" y="637.94" width="6.00" height="8.0" rx="3.00" ry="4.00" fill="#1212d6"/>
<rect x="659.00" y="637.94" width="6.30" height="8.0" rx="3.15" ry="4.00" fill="#1212d6"/>
<rect x="684.00" y="637.94" width="25.90" height="8.0" rx="3.60" ry="3.60" fill="#1212d6"/>
<rect x="721.10" y="637.94" width="18.30" height="8.0" rx="3.60" ry="3.60" fill="#1212d6"/>
<line x1="197.51" y1="657.48" x2="598.30" y2="657.48" stroke="#383838" stroke-width="0.9"/>
<rect x="195.51" y="653.48" width="24.56" height="8.0" rx="3.60" ry="3.60" fill="#1212d6"/>
<rect x="231.35" y="653.48" width="7.02" height="8.0" rx="3.51" ry="4.00" fill="#1212d6"/>
<rect x="285.74" y="653.48" width="25.31" height="8.0" rx="3.60" ry="3.60" fill="#1212d6"/>
<rect x="330.35" y="653.48" width="2.51" height="8.0" rx="1.25" ry="4.00" fill="#1212d6"/>
<rect x="336.62" y="653.48" width="4.51" height="8.0" rx="2.26" ry="4.00" fill="#1212d6"/>
<rect x="344.89" y="653.48" width="4.51" height="8.0" rx="2.26" ry="4.00" fill="#1212d6"/>
<rect x="506.10" y="653.48" width="6.00" height="8.0" rx="3.00" ry="4.00" fill="#1212d6"/>
<rect x="517.90" y="653.48" width="6.20" height="8.0" rx="3.10" ry="4.00" fill="#1212d6"/>
<rect x="543.70" y="653.48" width="25.80" height="8.0" rx="3.60" ry="3.60" fill="#1212d6"/>
<rect x="580.80" y="653.48" width="18.00" height="8.0" rx="3.60" ry="3.60" fill="#1212d6"/>
<line x1="197.51" y1="673.02" x2="396.30" y2="673.02" stroke="#383838" stroke-width="0.9"/>
<rect x="195.51" y="669.02" width="23.81" height="8.0" rx="3.60" ry="3.60" fill="#1212d6"/>
<rect x="225.09" y="669.02" width="7.52" height="8.0" rx="3.60" ry="3.60" fill="#1212d6"/>
<rect x="248.40" y="669.02" width="20.05" height="8.0" rx="3.60" ry="3.60" fill="#1212d6"/>
<rect x="278.22" y="669.02" width="2.76" height="8.0" rx="1.38" ry="4.00" fill="#1212d6"/>
<rect x="284.49" y="669.02" width="4.01" height="8.0" rx="2.01" ry="4.00" fill="#1212d6"/>
<rect x="292.76" y="669.02" width="4.51" height="8.0" rx="2.26" ry="4.00" fill="#1212d6"/>
<rect x="302.03" y="669.02" width="5.76" height="8.0" rx="2.88" ry="4.00" fill="#1212d6"/>
<rect x="314.06" y="669.02" width="6.27" height="8.0" rx="3.13" ry="4.00" fill="#1212d6"/>
<rect x="347.14" y="669.02" width="25.06" height="8.0" rx="3.60" ry="3.60" fill="#1212d6"/>
<rect x="378.80" y="669.02" width="18.00" height="8.0" rx="3.60" ry="3.60" fill="#1212d6"/>
<line x1="197.51" y1="688.56" x2="396.30" y2="688.56" stroke="#383838" stroke-width="0.9"/>
<rect x="195.51" y="684.56" width="23.81" height="8.0" rx="3.60" ry="3.60" fill="#1212d6"/>
<rect x="225.09" y="684.56" width="7.52" height="8.0" rx="3.60" ry="3.60" fill="#1212d6"/>
<rect x="248.40" y="684.56" width="20.05" height="8.0" rx="3.60" ry="3.60" fill="#1212d6"/>
<rect x="278.22" y="684.56" width="2.76" height="8.0" rx="1.38" ry="4.00" fill="#1212d6"/>
<rect x="284.49" y="684.56" width="4.01" height="8.0" rx="2.01" ry="4.00" fill="#1212d6"/>
<rect x="292.76" y="684.56" width="4.51" height="8.0" rx="2.26" ry="4.00" fill="#1212d6"/>
<rect x="302.03" y="684.56" width="5.76" height="8.0" rx="2.88" ry="4.00" fill="#1212d6"/>
<rect x="314.06" y="684.56" width="6.27" height="8.0" rx="3.13" ry="4.00" fill="#1212d6"/>
<rect x="347.14" y="684.56" width="25.06" height="8.0" rx="3.60" ry="3.60" fill="#1212d6"/>
<rect x="378.80" y="684.56" width="18.00" height="8.0" rx="3.60" ry="3.60" fill="#1212d6"/>
<line x1="197.51" y1="704.10" x2="423.40" y2="704.10" stroke="#383838" stroke-width="0.9"/>
<rect x="195.51" y="700.10" width="23.81" height="8.0" rx="3.60" ry="3.60" fill="#1212d6"/>
<rect x="225.59" y="700.10" width="7.02" height="8.0" rx="3.51" ry="4.00" fill="#1212d6"/>
<rect x="249.65" y="700.10" width="20.05" height="8.0" rx="3.60" ry="3.60" fill="#1212d6"/>
<rect x="299.02" y="700.10" width="3.01" height="8.0" rx="1.50" ry="4.00" fill="#1212d6"/>
<rect x="305.29" y="700.10" width="4.26" height="8.0" rx="2.13" ry="4.00" fill="#1212d6"/>
<rect x="313.56" y="700.10" width="5.01" height="8.0" rx="2.51" ry="4.00" fill="#1212d6"/>
<rect x="322.83" y="700.10" width="6.27" height="8.0" rx="3.13" ry="4.00" fill="#1212d6"/>
<rect x="335.36" y="700.10" width="6.77" height="8.0" rx="3.38" ry="4.00" fill="#1212d6"/>
<rect x="365.40" y="700.10" width="25.40" height="8.0" rx="3.60" ry="3.60" fill="#1212d6"/>
<rect x="405.80" y="700.10" width="18.10" height="8.0" rx="3.60" ry="3.60" fill="#1212d6"/>
<line x1="197.51" y1="719.64" x2="423.40" y2="719.64" stroke="#383838" stroke-width="0.9"/>
<rect x="195.51" y="715.64" width="23.81" height="8.0" rx="3.60" ry="3.60" fill="#1212d6"/>
<rect x="225.59" y="715.64" width="7.02" height="8.0" rx="3.51" ry="4.00" fill="#1212d6"/>
<rect x="249.65" y="715.64" width="20.05" height="8.0" rx="3.60" ry="3.60" fill="#1212d6"/>
<rect x="299.02" y="715.64" width="3.01" height="8.0" rx="1.50" ry="4.00" fill="#1212d6"/>
<rect x="305.29" y="715.64" width="4.26" height="8.0" rx="2.13" ry="4.00" fill="#1212d6"/>
<rect x="313.56" y="715.64" width="5.01" height="8.0" rx="2.51" ry="4.00" fill="#1212d6"/>
<rect x="322.83" y="715.64" width="6.27" height="8.0" rx="3.13" ry="4.00" fill="#1212d6"/>
<rect x="335.36" y="715.64" width="6.77" height="8.0" rx="3.38" ry="4.00" fill="#1212d6"/>
<rect x="365.40" y="715.64" width="25.40" height="8.0" rx="3.60" ry="3.60" fill="#1212d6"/>
<rect x="405.80" y="715.64" width="18.10" height="8.0" rx="3.60" ry="3.60" fill="#1212d6"/>
<line x1="197.51" y1="735.18" x2="452.50" y2="735.18" stroke="#383838" stroke-width="0.9"/>
<rect x="195.51" y="731.18" width="24.06" height="8.0" rx="3.60" ry="3.60" fill="#1212d6"/>
<rect x="224.59" y="731.18" width="7.52" height="8.0" rx="3.60" ry="3.60" fill="#1212d6"/>
<rect x="247.64" y="731.18" width="20.05" height="8.0" rx="3.60" ry="3.60" fill="#1212d6"/>
<rect x="340.00" y="731.18" width="3.00" height="8.0" rx="1.50" ry="4.00" fill="#1212d6"/>
<rect x="346.50" y="731.18" width="4.60" height="8.0" rx="2.30" ry="4.00" fill="#1212d6"/>
<rect x="354.30" y="731.18" width="4.60" height="8.0" rx="2.30" ry="4.00" fill="#1212d6"/>
<rect x="362.90" y="731.18" width="6.10" height="8.0" rx="3.05" ry="4.00" fill="#1212d6"/>
<rect x="375.90" y="731.18" width="6.10" height="8.0" rx="3.05" ry="4.00" fill="#1212d6"/>
<rect x="404.00" y="731.18" width="25.30" height="8.0" rx="3.60" ry="3.60" fill="#1212d6"/>
<rect x="434.90" y="731.18" width="18.10" height="8.0" rx="3.60" ry="3.60" fill="#1212d6"/>
<line x1="197.51" y1="750.72" x2="450.30" y2="750.72" stroke="#383838" stroke-width="0.9"/>
<rect x="195.51" y="746.72" width="24.06" height="8.0" rx="3.60" ry="3.60" fill="#1212d6"/>
<rect x="224.59" y="746.72" width="7.52" height="8.0" rx="3.60" ry="3.60" fill="#1212d6"/>
<rect x="247.64" y="746.72" width="20.05" height="8.0" rx="3.60" ry="3.60" fill="#1212d6"/>
<rect x="338.70" y="746.72" width="2.60" height="8.0" rx="1.30" ry="4.00" fill="#1212d6"/>
<rect x="344.70" y="746.72" width="4.30" height="8.0" rx="2.15" ry="4.00" fill="#1212d6"/>
<rect x="352.50" y="746.72" width="4.90" height="8.0" rx="2.45" ry="4.00" fill="#1212d6"/>
<rect x="361.50" y="746.72" width="5.80" height="8.0" rx="2.90" ry="4.00" fill="#1212d6"/>
<rect x="374.20" y="746.72" width="6.10" height="8.0" rx="3.05" ry="4.00" fill="#1212d6"/>
<rect x="401.90" y="746.72" width="25.10" height="8.0" rx="3.60" ry="3.60" fill="#1212d6"/>
<rect x="433.10" y="746.72" width="17.70" height="8.0" rx="3.60" ry="3.60" fill="#1212d6"/>
<line x1="197.51" y1="766.26" x2="221.33" y2="766.26" stroke="#383838" stroke-width="0.9"/>
<rect x="195.51" y="762.26" width="13.28" height="8.0" rx="3.60" ry="3.60" fill="#1212d6"/>
<rect x="213.81" y="762.26" width="8.02" height="8.0" rx="3.60" ry="3.60" fill="#1212d6"/>
<line x1="197.51" y1="781.80" x2="221.33" y2="781.80" stroke="#383838" stroke-width="0.9"/>
<rect x="195.51" y="777.80" width="13.28" height="8.0" rx="3.60" ry="3.60" fill="#1212d6"/>
<rect x="213.81" y="777.80" width="8.02" height="8.0" rx="3.60" ry="3.60" fill="#1212d6"/>
<line x1="197.51" y1="797.34" x2="359.93" y2="797.34" stroke="#383838" stroke-width="0.9"/>
<rect x="195.51" y="793.34" width="26.57" height="8.0" rx="3.60" ry="3.60" fill="#1212d6"/>
<rect x="240.63" y="793.34" width="7.02" height="8.0" rx="3.51" ry="4.00" fill="#1212d6"/>
<rect x="252.66" y="793.34" width="6.27" height="8.0" rx="3.13" ry="4.00" fill="#1212d6"/>
<rect x="355.91" y="793.34" width="4.51" height="8.0" rx="2.26" ry="4.00" fill="#1212d6"/>
<ellipse cx="287.62" cy="797.34" rx="0.7" ry="3.8" fill="#1212d6"/>
<line x1="197.51" y1="812.88" x2="253.16" y2="812.88" stroke="#383838" stroke-width="0.9"/>
<rect x="195.51" y="808.88" width="26.57" height="8.0" rx="3.60" ry="3.60" fill="#1212d6"/>
<rect x="240.13" y="808.88" width="7.52" height="8.0" rx="3.60" ry="3.60" fill="#1212d6"/>
<ellipse cx="253.66" cy="812.88" rx="0.7" ry="3.8" fill="#1212d6"/>
<line x1="197.51" y1="828.42" x2="263.06" y2="828.42" stroke="#383838" stroke-width="0.9"/>
<rect x="195.51" y="824.42" width="25.81" height="8.0" rx="3.60" ry="3.60" fill="#1212d6"/>
<rect x="237.12" y="824.42" width="7.52" height="8.0" rx="3.60" ry="3.60" fill="#1212d6"/>
<ellipse cx="263.56" cy="828.42" rx="0.7" ry="3.8" fill="#1212d6"/>
<line x1="197.51" y1="843.96" x2="274.34" y2="843.96" stroke="#383838" stroke-width="0.9"/>
<rect x="195.51" y="839.96" width="25.81" height="8.0" rx="3.60" ry="3.60" fill="#1212d6"/>
<rect x="237.12" y="839.96" width="7.52" height="8.0" rx="3.60" ry="3.60" fill="#1212d6"/>
<ellipse cx="274.84" cy="843.96" rx="0.7" ry="3.8" fill="#1212d6"/>
<line x1="197.51" y1="859.50" x2="461.50" y2="859.50" stroke="#383838" stroke-width="0.9"/>
<rect x="195.51" y="855.50" width="22.81" height="8.0" rx="3.60" ry="3.60" fill="#1212d6"/>
<rect x="296.52" y="855.50" width="7.02" height="8.0" rx="3.51" ry="4.00" fill="#1212d6"/>
<rect x="307.79" y="855.50" width="8.77" height="8.0" rx="3.60" ry="3.60" fill="#1212d6"/>
<rect x="320.33" y="855.50" width="3.01" height="8.0" rx="1.50" ry="4.00" fill="#1212d6"/>
<rect x="327.34" y="855.50" width="5.01" height="8.0" rx="2.51" ry="4.00" fill="#1212d6"/>
<rect x="354.16" y="855.50" width="5.01" height="8.0" rx="2.51" ry="4.00" fill="#1212d6"/>
<rect x="372.50" y="855.50" width="5.50" height="8.0" rx="2.75" ry="4.00" fill="#1212d6"/>
<rect x="392.00" y="855.50" width="6.00" height="8.0" rx="3.00" ry="4.00" fill="#1212d6"/>
<rect x="410.10" y="855.50" width="22.60" height="8.0" rx="3.60" ry="3.60" fill="#1212d6"/>
<rect x="449.40" y="855.50" width="12.60" height="8.0" rx="3.60" ry="3.60" fill="#1212d6"/>
<line x1="197.51" y1="875.04" x2="482.80" y2="875.04" stroke="#383838" stroke-width="0.9"/>
<rect x="195.51" y="871.04" width="22.81" height="8.0" rx="3.60" ry="3.60" fill="#1212d6"/>
<rect x="308.30" y="871.04" width="7.02" height="8.0" rx="3.51" ry="4.00" fill="#1212d6"/>
<rect x="329.10" y="871.04" width="9.27" height="8.0" rx="3.60" ry="3.60" fill="#1212d6"/>
<rect x="342.13" y="871.04" width="2.76" height="8.0" rx="1.38" ry="4.00" fill="#1212d6"/>
<rect x="349.15" y="871.04" width="4.51" height="8.0" rx="2.26" ry="4.00" fill="#1212d6"/>
<rect x="376.30" y="871.04" width="4.50" height="8.0" rx="2.25" ry="4.00" fill="#1212d6"/>
<rect x="394.60" y="871.04" width="5.40" height="8.0" rx="2.70" ry="4.00" fill="#1212d6"/>
<rect x="413.90" y="871.04" width="6.20" height="8.0" rx="3.10" ry="4.00" fill="#1212d6"/>
<rect x="432.20" y="871.04" width="22.30" height="8.0" rx="3.60" ry="3.60" fill="#1212d6"/>
<rect x="470.80" y="871.04" width="12.50" height="8.0" rx="3.60" ry="3.60" fill="#1212d6"/>
<line x1="197.51" y1="890.58" x2="421.40" y2="890.58" stroke="#383838" stroke-width="0.9"/>
<rect x="195.51" y="886.58" width="22.06" height="8.0" rx="3.60" ry="3.60" fill="#1212d6"/>
<rect x="266.44" y="886.58" width="7.02" height="8.0" rx="3.51" ry="4.00" fill="#1212d6"/>
<rect x="277.72" y="886.58" width="8.77" height="8.0" rx="3.60" ry="3.60" fill="#1212d6"/>
<rect x="290.25" y="886.58" width="3.01" height="8.0" rx="1.50" ry="4.00" fill="#1212d6"/>
<rect x="297.27" y="886.58" width="4.76" height="8.0" rx="2.38" ry="4.00" fill="#1212d6"/>
<rect x="322.83" y="886.58" width="5.01" height="8.0" rx="2.51" ry="4.00" fill="#1212d6"/>
<rect x="340.38" y="886.58" width="5.76" height="8.0" rx="2.88" ry="4.00" fill="#1212d6"/>
<rect x="353.41" y="886.58" width="7.02" height="8.0" rx="3.51" ry="4.00" fill="#1212d6"/>
<rect x="370.50" y="886.58" width="23.30" height="8.0" rx="3.60" ry="3.60" fill="#1212d6"/>
<rect x="410.60" y="886.58" width="11.30" height="8.0" rx="3.60" ry="3.60" fill="#1212d6"/>
<line x1="197.51" y1="906.12" x2="421.60" y2="906.12" stroke="#383838" stroke-width="0.9"/>
<rect x="195.51" y="902.12" width="22.06" height="8.0" rx="3.60" ry="3.60" fill="#1212d6"/>
<rect x="266.44" y="902.12" width="7.02" height="8.0" rx="3.51" ry="4.00" fill="#1212d6"/>
<rect x="278.22" y="902.12" width="8.27" height="8.0" rx="3.60" ry="3.60" fill="#1212d6"/>
<rect x="290.25" y="902.12" width="3.01" height="8.0" rx="1.50" ry="4.00" fill="#1212d6"/>
<rect x="297.77" y="902.12" width="4.26" height="8.0" rx="2.13" ry="4.00" fill="#1212d6"/>
<rect x="323.33" y="902.12" width="5.01" height="8.0" rx="2.51" ry="4.00" fill="#1212d6"/>
<rect x="341.13" y="902.12" width="5.51" height="8.0" rx="2.76" ry="4.00" fill="#1212d6"/>
<rect x="354.16" y="902.12" width="6.77" height="8.0" rx="3.38" ry="4.00" fill="#1212d6"/>
<rect x="370.80" y="902.12" width="23.50" height="8.0" rx="3.60" ry="3.60" fill="#1212d6"/>
<rect x="410.90" y="902.12" width="11.20" height="8.0" rx="3.60" ry="3.60" fill="#1212d6"/>
</g>
<g stroke="#222" stroke-width="0.9"><line x1="195.0" y1="921.5" x2="739.5" y2="921.5"/>
<line x1="195.40" y1="918.1" x2="195.40" y2="921.5"/>
<line x1="235.29" y1="918.1" x2="235.29" y2="921.5"/>
<line x1="275.18" y1="918.1" x2="275.18" y2="921.5"/>
<line x1="315.07" y1="918.1" x2="315.07" y2="921.5"/>
<line x1="354.96" y1="918.1" x2="354.96" y2="921.5"/>
<line x1="394.85" y1="918.1" x2="394.85" y2="921.5"/>
<line x1="434.74" y1="918.1" x2="434.74" y2="921.5"/>
<line x1="474.63" y1="918.1" x2="474.63" y2="921.5"/>
<line x1="514.52" y1="918.1" x2="514.52" y2="921.5"/>
<line x1="554.41" y1="918.1" x2="554.41" y2="921.5"/>
<line x1="594.30" y1="918.1" x2="594.30" y2="921.5"/>
<line x1="634.19" y1="918.1" x2="634.19" y2="921.5"/>
<line x1="674.08" y1="918.1" x2="674.08" y2="921.5"/>
<line x1="713.97" y1="918.1" x2="713.97" y2="921.5"/>
</g>
<g class="sf" font-size="7.2" letter-spacing="0.2" stroke="#000" stroke-width="0.25">
<text class="sf" x="192.40" y="929.6">0kb</text>
<text class="sf" x="232.29" y="929.6">1kb</text>
<text class="sf" x="272.18" y="929.6">2kb</text>
<text class="sf" x="312.07" y="929.6">3kb</text>
<text class="sf" x="351.96" y="929.6">4kb</text>
<text class="sf" x="391.85" y="929.6">5kb</text>
<text class="sf" x="431.74" y="929.6">6kb</text>
<text class="sf" x="471.63" y="929.6">7kb</text>
<text class="sf" x="511.52" y="929.6">8kb</text>
<text class="sf" x="551.41" y="929.6">9kb</text>
<text class="sf" x="591.30" y="929.6">10kb</text>
<text class="sf" x="631.19" y="929.6">11kb</text>
<text class="sf" x="671.08" y="929.6">12kb</text>
<text class="sf" x="710.97" y="929.6">13kb</text>
</g>
<text class="sf" font-size="7" x="744.2" y="918.2">3'</text>
<text class="sf" font-size="11.5" x="639" y="861.1">Legend:</text>
<rect x="639" y="868.6" width="15.7" height="7.8" rx="3.6" fill="#1212d6"/>
<text class="sf" font-size="9.3" x="658.5" y="876.7">Exon</text>
<line x1="693.1" y1="872.4" x2="708.4" y2="872.4" stroke="#222" stroke-width="0.9"/>
<text class="sf" font-size="9.4" x="712.8" y="876.7">Intron</text>
</svg></body></html>
